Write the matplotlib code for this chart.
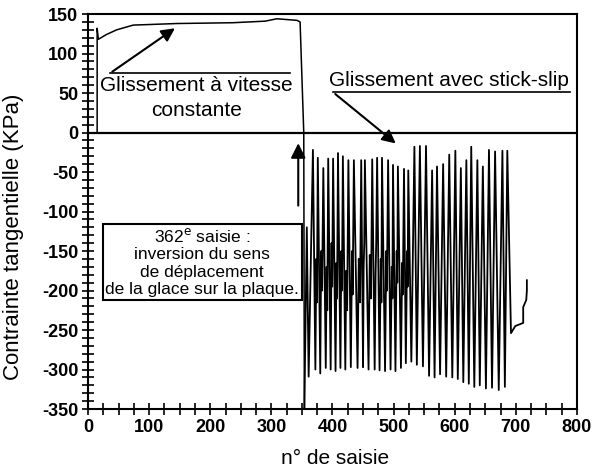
import matplotlib
matplotlib.use("Agg")
import matplotlib.pyplot as plt
from matplotlib.ticker import MultipleLocator

plt.rcParams["font.family"] = ["Liberation Sans", "DejaVu Sans"]
plt.rcParams["axes.unicode_minus"] = False

# Constant-speed sliding, then the reversal at saisie ~362
x_const = [15, 15, 17, 30, 47, 74, 146, 237, 290, 309, 342, 347, 353, 354]
y_const = [0, 132, 118, 124, 130, 136, 138, 139, 141, 144, 142, 140, 0, -350]

# Stick-slip part: peaks, troughs and the small wiggles in between
x_stick = [354, 358, 361,
           368, 372, 373.5, 374.5, 376, 380, 381.5, 383, 385, 389, 390.5, 391.5,
           393, 397, 398.5, 399.5, 401, 405, 406.5, 407.5, 409, 413, 414.5, 415.5,
           417, 421, 422.5, 424, 426, 430, 432, 433, 435, 441, 443, 445,
           447, 450, 451, 452, 453, 459, 461, 463, 465, 469, 470.5, 471.5,
           473, 477, 479, 480, 481, 486, 488, 489, 491, 495, 497, 498,
           499, 503, 505, 506, 507, 512, 514, 515, 517, 520, 522, 523,
           524, 529, 534, 538, 543, 548, 553, 558, 563, 567, 571, 576,
           581, 586, 591, 596, 601, 605, 610, 614, 619, 623, 627, 632,
           637, 641, 646, 651, 656, 661, 666, 672, 678, 682, 686,
           692, 699, 712, 712, 717, 718, 718]
y_stick = [-350, -120, -309,
           -22, -300, -160, -215, -32, -305, -150, -200, -45, -298, -170, -225,
           -33, -300, -140, -195, -33, -302, -165, -210, -26, -298, -150, -200,
           -30, -300, -175, -225, -35, -297, -150, -205, -35, -298, -160, -215,
           -35, -297, -170, -140, -35, -300, -155, -210, -34, -300, -180, -140,
           -32, -301, -160, -215, -32, -302, -150, -200, -35, -300, -170, -210,
           -41, -302, -150, -190, -43, -298, -165, -205, -46, -292, -150, -195,
           -48, -290, -18, -294, -17, -296, -17, -308, -48, -310, -43, -306,
           -40, -309, -28, -310, -23, -312, -45, -316, -35, -318, -18, -322,
           -35, -320, -43, -324, -22, -323, -24, -326, -23, -322, -23,
           -254, -245, -241, -221, -212, -200, -187]

fig = plt.figure(figsize=(6.08, 4.71), dpi=100)
ax = fig.add_axes([0.1447, 0.1316, 0.8043, 0.8386])

ax.plot(x_const, y_const, color="black", lw=1.1)
ax.plot(x_stick, y_stick, color="black", lw=1.3)
ax.axhline(0, color="black", lw=1.6)

ax.set_xlim(0, 800)
ax.set_ylim(-350, 150)
ax.xaxis.set_major_locator(MultipleLocator(100))
ax.xaxis.set_minor_locator(MultipleLocator(25))
ax.yaxis.set_major_locator(MultipleLocator(50))
ax.yaxis.set_minor_locator(MultipleLocator(10))
ax.tick_params(which="both", direction="inout", length=8, width=1.2,
               labelsize=13, pad=3)
for lab in ax.get_xticklabels() + ax.get_yticklabels():
    lab.set_fontweight("bold")
for sp in ax.spines.values():
    sp.set_linewidth(1.5)

ax.set_xlabel("n° de saisie", fontsize=15)
ax.set_ylabel("Contrainte tangentielle (KPa)", fontsize=16)
ax.xaxis.set_label_coords(0.505, -0.1)
ax.yaxis.set_label_coords(-0.13, 0.435)

# Annotation 1: constant speed sliding
ax.plot([36, 331], [75, 75], color="black", lw=1.2)
ax.annotate("", xy=(146, 134), xytext=(36, 75),
            arrowprops=dict(arrowstyle="-|>", color="black", lw=1.5,
                            mutation_scale=20))
ax.text(178, 60, "Glissement à vitesse", ha="center", va="center", fontsize=15)
ax.text(178, 28, "constante", ha="center", va="center", fontsize=15)

# Annotation 2: stick-slip
ax.plot([401, 789], [51, 51], color="black", lw=1.2)
ax.annotate("", xy=(507, -16), xytext=(401, 51),
            arrowprops=dict(arrowstyle="-|>", color="black", lw=1.5,
                            mutation_scale=20))
ax.text(591, 66, "Glissement avec stick-slip", ha="center", va="center",
        fontsize=15)

# Annotation 3: reversal box
ax.annotate("", xy=(344, -10), xytext=(344, -96),
            arrowprops=dict(arrowstyle="-|>", color="black", lw=1.5,
                            mutation_scale=22))
ax.text(187, -164,
        "362$^{\\mathrm{e}}$ saisie :\ninversion du sens\nde déplacement\nde la glace sur la plaque.",
        ha="center", va="center", fontsize=12.5, linespacing=1.2,
        bbox=dict(boxstyle="square,pad=0.15", fc="white", ec="black", lw=1.5))

fig.savefig("out.png", dpi=100)
